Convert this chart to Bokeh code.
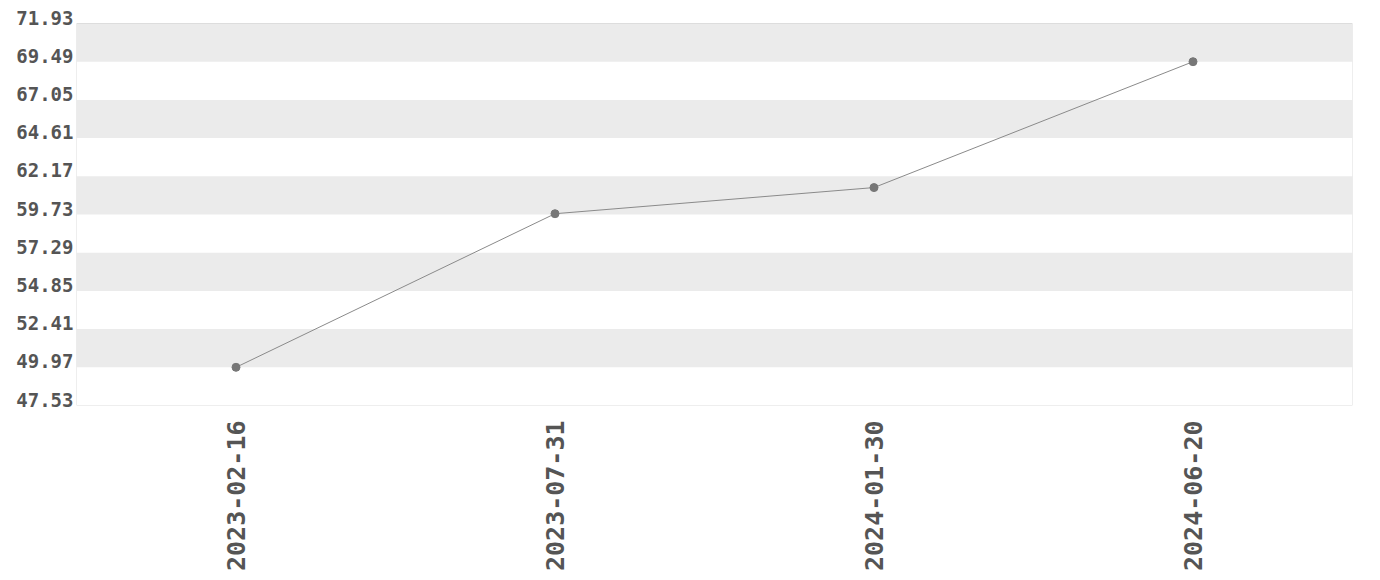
from bokeh.plotting import figure
from bokeh.models import FixedTicker, Range1d, FactorRange, LinearAxis, CustomJSTickFormatter
from bokeh.embed import file_html
from bokeh.resources import INLINE

dates = ["2023-02-16", "2023-07-31", "2024-01-30", "2024-06-20"]
values = [49.97, 59.78, 61.45, 69.49]
y_ticks = [47.53, 49.97, 52.41, 54.85, 57.29, 59.73, 62.17, 64.61, 67.05, 69.49, 71.93]

FONT = "DejaVu Sans Mono"
TXT = "#555555"

BOX_H = 382          # visible plot box height in px
LIFT = 6             # tick labels sit this many px above their tick
ymin, ymax = y_ticks[0], y_ticks[-1]
d = LIFT * (ymax - ymin) / BOX_H

p = figure(width=1372, height=578, output_backend="svg", toolbar_location=None,
           x_range=FactorRange(*dates), y_range=Range1d(ymin, ymax + d),
           y_axis_location=None,
           min_border_left=76, min_border_right=20, min_border_top=23 - LIFT,
           min_border_bottom=173)

# alternating bands, starting from the top interval
tops, bottoms = [], []
n = len(y_ticks)
for i in range(n - 1, 0, -2):
    tops.append(y_ticks[i])
    bottoms.append(y_ticks[i - 1])
p.quad(left=[0] * len(tops), right=[len(dates)] * len(tops), top=tops, bottom=bottoms,
       fill_color="#ebebeb", line_color=None)
# plot box outline
p.quad(left=[0], right=[len(dates)], top=[ymax], bottom=[ymin],
       fill_color=None, line_color="#dddddd", line_width=1)

p.line(dates, values, line_color="#8a8a8a", line_width=1)
p.scatter(dates, values, size=8, fill_color="#777777", line_color="#777777")

p.xgrid.grid_line_color = None
p.ygrid.grid_line_color = None
p.outline_line_color = None

# label axis on a shifted range so labels sit slightly above their ticks
p.extra_y_ranges = {"lab": Range1d(ymin - d, ymax)}
yax = LinearAxis(y_range_name="lab")
yax.ticker = FixedTicker(ticks=y_ticks)
yax.formatter = CustomJSTickFormatter(code="return tick.toFixed(2);")
p.add_layout(yax, "left")

for ax in (p.xaxis[0], yax):
    ax.axis_line_color = None
    ax.major_tick_line_color = None
    ax.minor_tick_line_color = None
    ax.major_label_text_font = FONT
    ax.major_label_text_font_style = "bold"
    ax.major_label_text_color = TXT

yax.major_label_text_font_size = "19px"
yax.major_label_standoff = -3

p.xaxis.major_label_text_font_size = "25px"
p.xaxis.major_label_orientation = 1.5708
p.xaxis.major_label_standoff = 9

open("out.html", "w").write(file_html(p, INLINE))
